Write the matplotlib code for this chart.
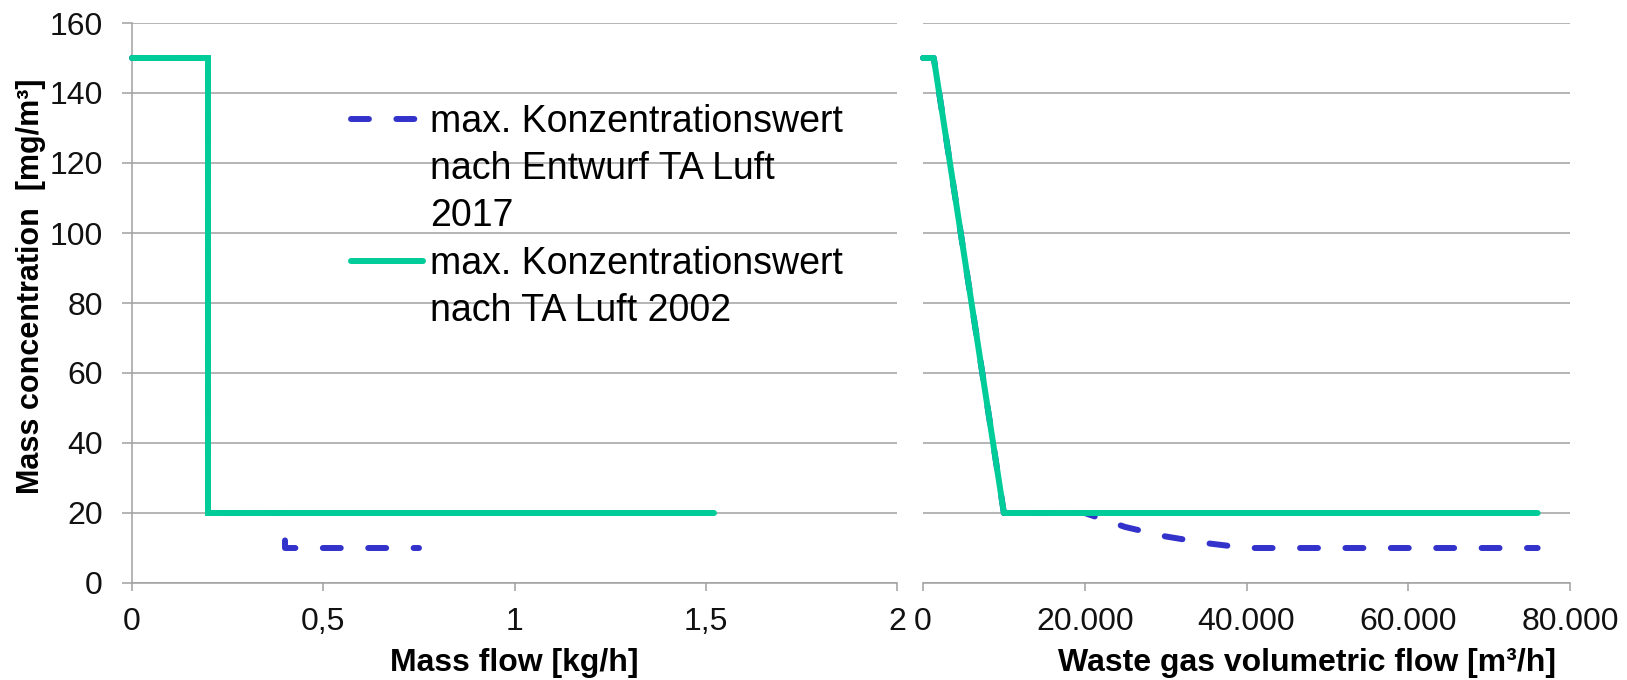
import matplotlib
matplotlib.use('Agg')
import matplotlib.pyplot as plt
from matplotlib.lines import Line2D
from matplotlib.ticker import FuncFormatter, MultipleLocator

# ---- data ----
mass_flow_2017 = [0, 0.2, 0.2, 0.4, 0.4, 0.75]
conc_mass_2017 = [150, 150, 20, 20, 10, 10]
mass_flow_2002 = [0, 0.2, 0.2, 1.52]
conc_mass_2002 = [150, 150, 20, 20]

vol_flow_2017 = [0, 1333, 10000, 20000, 25000, 30000, 35000, 40000, 76000]
conc_vol_2017 = [150, 150, 20, 20, 16, 13.3, 11.4, 10, 10]
vol_flow_2002 = [0, 1333, 10000, 76000]
conc_vol_2002 = [150, 150, 20, 20]

label_2017 = ["max. Konzentrationswert", "nach Entwurf TA Luft", "2017"]
label_2002 = ["max. Konzentrationswert", "nach TA Luft 2002"]

xlabel_left = "Mass flow [kg/h]"
xlabel_right = "Waste gas volumetric flow [m³/h]"
ylabel = "Mass concentration  [mg/m³]"

# ---- style ----
plt.rcParams['font.family'] = ['Liberation Sans', 'DejaVu Sans']
C_BLUE = '#3333CC'
C_GREEN = '#00CC99'
C_GRID = '#A0A0A0'
LW = 4.3
DASH = (3.0, 4.6)

W, H = 1627, 680
fig = plt.figure(figsize=(W / 100, H / 100), dpi=100)

ax1 = fig.add_axes([131.5 / W, (H - 583) / H, 766 / W, 560 / H])
ax2 = fig.add_axes([923 / W, (H - 583) / H, 647 / W, 560 / H])

for ax in (ax1, ax2):
    ax.set_ylim(0, 160)
    ax.yaxis.set_major_locator(MultipleLocator(20))
    ax.grid(axis='y', color=C_GRID, lw=1.1)
    ax.set_axisbelow(True)
    for s in ('top', 'right'):
        ax.spines[s].set_visible(False)
    ax.spines['bottom'].set_color(C_GRID)
    ax.spines['bottom'].set_linewidth(1.1)
    ax.spines['left'].set_color(C_GRID)
    ax.spines['left'].set_linewidth(1.1)
    ax.tick_params(axis='x', direction='out', length=6, width=1.1, color=C_GRID,
                   labelsize=23, pad=11, labelcolor='#111111')

ax1.tick_params(axis='y', direction='out', length=7.2, width=1.1, color=C_GRID,
                labelsize=23, pad=13.5, labelcolor='#111111')
ax2.spines['left'].set_visible(False)
ax2.tick_params(axis='y', left=False, labelleft=False)

# left panel
ax1.plot(mass_flow_2017, conc_mass_2017, color=C_BLUE, lw=LW, dashes=DASH,
         dash_capstyle='round', solid_joinstyle='miter', clip_on=False, zorder=3)
ax1.plot(mass_flow_2002, conc_mass_2002, color=C_GREEN, lw=LW,
         solid_capstyle='round', solid_joinstyle='miter', clip_on=False, zorder=4)
ax1.set_xlim(0, 2)
ax1.xaxis.set_major_locator(MultipleLocator(0.5))
ax1.xaxis.set_major_formatter(FuncFormatter(lambda v, p: f"{v:g}".replace('.', ',')))

# right panel
ax2.plot(vol_flow_2017, conc_vol_2017, color=C_BLUE, lw=LW, dashes=DASH,
         dash_capstyle='round', clip_on=False, zorder=3)
ax2.plot(vol_flow_2002, conc_vol_2002, color=C_GREEN, lw=LW,
         solid_capstyle='round', clip_on=False, zorder=4)
ax2.set_xlim(0, 80000)
ax2.xaxis.set_major_locator(MultipleLocator(20000))
ax2.xaxis.set_major_formatter(FuncFormatter(lambda v, p: f"{int(v):,}".replace(',', '.')))

# labels
ax1.set_xlabel(xlabel_left, fontsize=23, fontweight='bold')
ax1.xaxis.set_label_coords(0.5, -0.116)
ax2.set_xlabel(xlabel_right, fontsize=23, fontweight='bold')
ax2.xaxis.set_label_coords(0.593, -0.116)
ax1.set_ylabel(ylabel, fontsize=22, fontweight='bold')
ax1.yaxis.set_label_coords(-0.111, 0.53)

# legend (first line of each entry carries the handle)
handles, labels = [], []
for i, t in enumerate(label_2017):
    if i == 0:
        handles.append(Line2D([], [], color=C_BLUE, lw=LW, dashes=DASH, dash_capstyle='round'))
    else:
        handles.append(Line2D([], [], linestyle='none'))
    labels.append(t)
for i, t in enumerate(label_2002):
    if i == 0:
        handles.append(Line2D([], [], color=C_GREEN, lw=LW, solid_capstyle='round'))
    else:
        handles.append(Line2D([], [], linestyle='none'))
    labels.append(t)

leg = ax1.legend(handles, labels, loc='upper left',
                 bbox_to_anchor=(351 / W, (H - 104) / H), bbox_transform=fig.transFigure,
                 frameon=False, fontsize=27, borderpad=0, borderaxespad=0,
                 handlelength=1.92, handletextpad=0.2, labelspacing=0.3)

fig.savefig('out.png', dpi=100)
